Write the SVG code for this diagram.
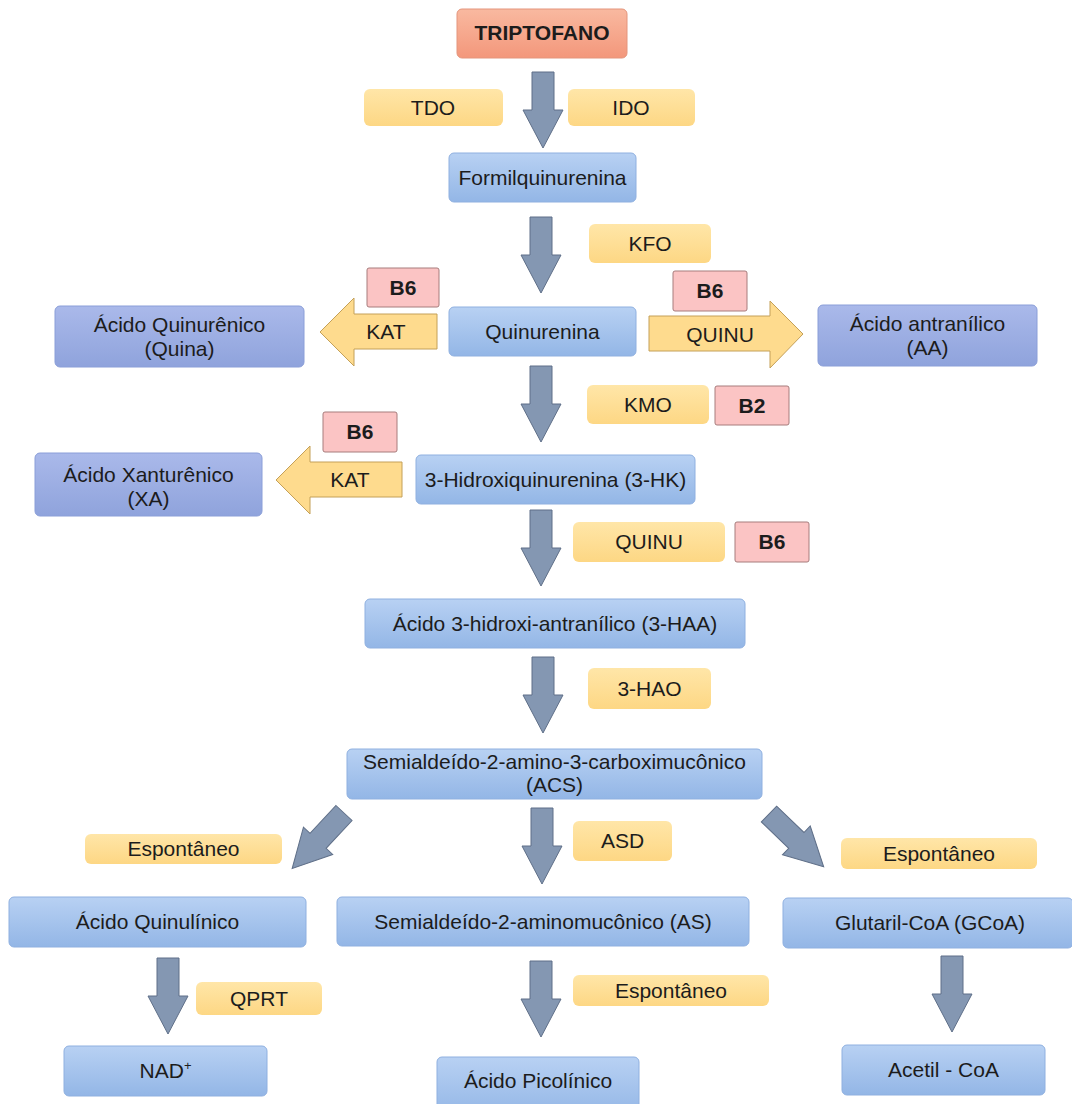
<svg xmlns="http://www.w3.org/2000/svg" width="1072" height="1104" viewBox="0 0 1072 1104">
<defs>
<linearGradient id="gBlue" x1="0" y1="0" x2="0" y2="1"><stop offset="0" stop-color="#b8d1f3"/><stop offset="1" stop-color="#93b6e6"/></linearGradient>
<linearGradient id="gPurple" x1="0" y1="0" x2="0" y2="1"><stop offset="0" stop-color="#aab9ea"/><stop offset="1" stop-color="#8fa3dc"/></linearGradient>
<linearGradient id="gYellow" x1="0" y1="0" x2="0" y2="1"><stop offset="0" stop-color="#ffe6a8"/><stop offset="1" stop-color="#fdd784"/></linearGradient>
<linearGradient id="gSalmon" x1="0" y1="0" x2="0" y2="1"><stop offset="0" stop-color="#f9b9a0"/><stop offset="1" stop-color="#f3977b"/></linearGradient>
<path id="dArrow" d="M-11,0 H11 V38 H20 L0,76 L-20,38 H-11 Z"/>
</defs>
<style>
text{font-family:"Liberation Sans",Arial,sans-serif;font-size:21px;fill:#1c1c1c;text-anchor:middle}
.b{font-weight:bold}
.blue{fill:url(#gBlue);stroke:#8fb0e0;stroke-width:1}
.purple{fill:url(#gPurple);stroke:#8a9ed8;stroke-width:1}
.yel{fill:url(#gYellow);stroke:none}
.pink{fill:#fbc4c4;stroke:#a77c7c;stroke-width:1}
.salmon{fill:url(#gSalmon);stroke:#e4957c;stroke-width:1}
.ga{fill:#8497b2;stroke:#5f6f88;stroke-width:1}
.ya{fill:#fedb8e;stroke:#c4a058;stroke-width:1}
</style>
<rect width="1072" height="1104" fill="#ffffff"/>

<g id="connectors">
<use href="#dArrow" class="ga" transform="translate(543,72)"/>
<use href="#dArrow" class="ga" transform="translate(541,217)"/>
<use href="#dArrow" class="ga" transform="translate(541,366)"/>
<use href="#dArrow" class="ga" transform="translate(541,510)"/>
<use href="#dArrow" class="ga" transform="translate(543,657)"/>
<use href="#dArrow" class="ga" transform="translate(542,808)"/>
<use href="#dArrow" class="ga" transform="translate(344,813) rotate(43)"/>
<use href="#dArrow" class="ga" transform="translate(769,814) rotate(-46)"/>
<use href="#dArrow" class="ga" transform="translate(168,958)"/>
<use href="#dArrow" class="ga" transform="translate(541,961)"/>
<use href="#dArrow" class="ga" transform="translate(952,956)"/>
<g id="kat1">
<path class="ya" d="M437,314 H354 V298 L320,332 L354,366 V349 H437 Z"/>
<text x="386" y="339">KAT</text>
</g>
<g id="kat2">
<path class="ya" d="M402,462 H310 V446 L276,480 L310,514 V497 H402 Z"/>
<text x="350" y="487">KAT</text>
</g>
<g id="quinu1">
<path class="ya" d="M649,316 H770 V301 L803,334 L770,368 V351 H649 Z"/>
<text x="720" y="342">QUINU</text>
</g>
</g>

<g id="triptofano"><rect class="salmon" x="457" y="9" width="170" height="49" rx="5"/><text class="b" x="542" y="40">TRIPTOFANO</text></g>
<g id="tdo"><rect class="yel" x="364" y="89" width="139" height="37" rx="6"/><text x="433" y="115">TDO</text></g>
<g id="ido"><rect class="yel" x="568" y="89" width="127" height="37" rx="6"/><text x="631" y="115">IDO</text></g>
<g id="formilquinurenina"><rect class="blue" x="449" y="153" width="187" height="49" rx="5"/><text x="542.5" y="185">Formilquinurenina</text></g>
<g id="kfo"><rect class="yel" x="589" y="224" width="122" height="39" rx="6"/><text x="650" y="251">KFO</text></g>
<g id="quinurenina"><rect class="blue" x="449" y="307" width="187" height="49" rx="5"/><text x="542.5" y="339">Quinurenina</text></g>
<g id="b6-kat1"><rect class="pink" x="367" y="268" width="72" height="39" rx="2"/><text class="b" x="403" y="295">B6</text></g>
<g id="acido-quinurenico"><rect class="purple" x="55" y="306" width="249" height="61" rx="5"/><text x="179.5" y="332">Ácido Quinurênico</text><text x="179.5" y="356">(Quina)</text></g>
<g id="b6-quinu1"><rect class="pink" x="673" y="271" width="74" height="40" rx="2"/><text class="b" x="710" y="298">B6</text></g>
<g id="acido-antranilico"><rect class="purple" x="818" y="305" width="219" height="61" rx="5"/><text x="927.5" y="331">Ácido antranílico</text><text x="927.5" y="355">(AA)</text></g>
<g id="kmo"><rect class="yel" x="587" y="385" width="122" height="39" rx="6"/><text x="648" y="412">KMO</text></g>
<g id="b2"><rect class="pink" x="715" y="386" width="74" height="39" rx="2"/><text class="b" x="752" y="413">B2</text></g>
<g id="b6-kat2"><rect class="pink" x="323" y="412" width="74" height="40" rx="2"/><text class="b" x="360" y="439">B6</text></g>
<g id="acido-xanturenico"><rect class="purple" x="35" y="453" width="227" height="63" rx="5"/><text x="148.5" y="482">Ácido Xanturênico</text><text x="148.5" y="506">(XA)</text></g>
<g id="hidroxiquinurenina"><rect class="blue" x="416" y="455" width="279" height="49" rx="5"/><text x="555.5" y="487">3-Hidroxiquinurenina (3-HK)</text></g>
<g id="quinu2"><rect class="yel" x="573" y="522" width="152" height="40" rx="6"/><text x="649" y="549">QUINU</text></g>
<g id="b6-quinu2"><rect class="pink" x="735" y="522" width="74" height="40" rx="2"/><text class="b" x="772" y="549">B6</text></g>
<g id="acido-hidroxi-antranilico"><rect class="blue" x="365" y="599" width="380" height="49" rx="5"/><text x="555" y="631">Ácido 3-hidroxi-antranílico (3-HAA)</text></g>
<g id="hao"><rect class="yel" x="588" y="668" width="123" height="41" rx="6"/><text x="649.5" y="696">3-HAO</text></g>
<g id="acs"><rect class="blue" x="347" y="749" width="415" height="50" rx="5"/><text x="554.5" y="769">Semialdeído-2-amino-3-carboximucônico</text><text x="554.5" y="792">(ACS)</text></g>
<g id="espontaneo-left"><rect class="yel" x="85" y="834" width="197" height="30" rx="6"/><text x="183.5" y="856">Espontâneo</text></g>
<g id="asd"><rect class="yel" x="573" y="821" width="99" height="40" rx="6"/><text x="622.5" y="848">ASD</text></g>
<g id="espontaneo-right"><rect class="yel" x="841" y="838" width="196" height="31" rx="6"/><text x="939" y="861">Espontâneo</text></g>
<g id="acido-quinulinico"><rect class="blue" x="9" y="897" width="297" height="50" rx="5"/><text x="157.5" y="929">Ácido Quinulínico</text></g>
<g id="as"><rect class="blue" x="337" y="897" width="412" height="49" rx="5"/><text x="543" y="929">Semialdeído-2-aminomucônico (AS)</text></g>
<g id="glutaril-coa"><rect class="blue" x="783" y="898" width="290" height="50" rx="5"/><text x="930" y="930">Glutaril-CoA (GCoA)</text></g>
<g id="qprt"><rect class="yel" x="196" y="982" width="126" height="33" rx="6"/><text x="259" y="1006">QPRT</text></g>
<g id="espontaneo-mid"><rect class="yel" x="573" y="975" width="196" height="31" rx="6"/><text x="671" y="998">Espontâneo</text></g>
<g id="nad"><rect class="blue" x="64" y="1046" width="203" height="50" rx="5"/><text x="165.5" y="1078">NAD<tspan font-size="13" dy="-8">+</tspan></text></g>
<g id="acido-picolinico"><rect class="blue" x="437" y="1057" width="202" height="60" rx="5"/><text x="538" y="1088">Ácido Picolínico</text></g>
<g id="acetil-coa"><rect class="blue" x="842" y="1045" width="203" height="50" rx="5"/><text x="943.5" y="1077">Acetil - CoA</text></g>
</svg>
